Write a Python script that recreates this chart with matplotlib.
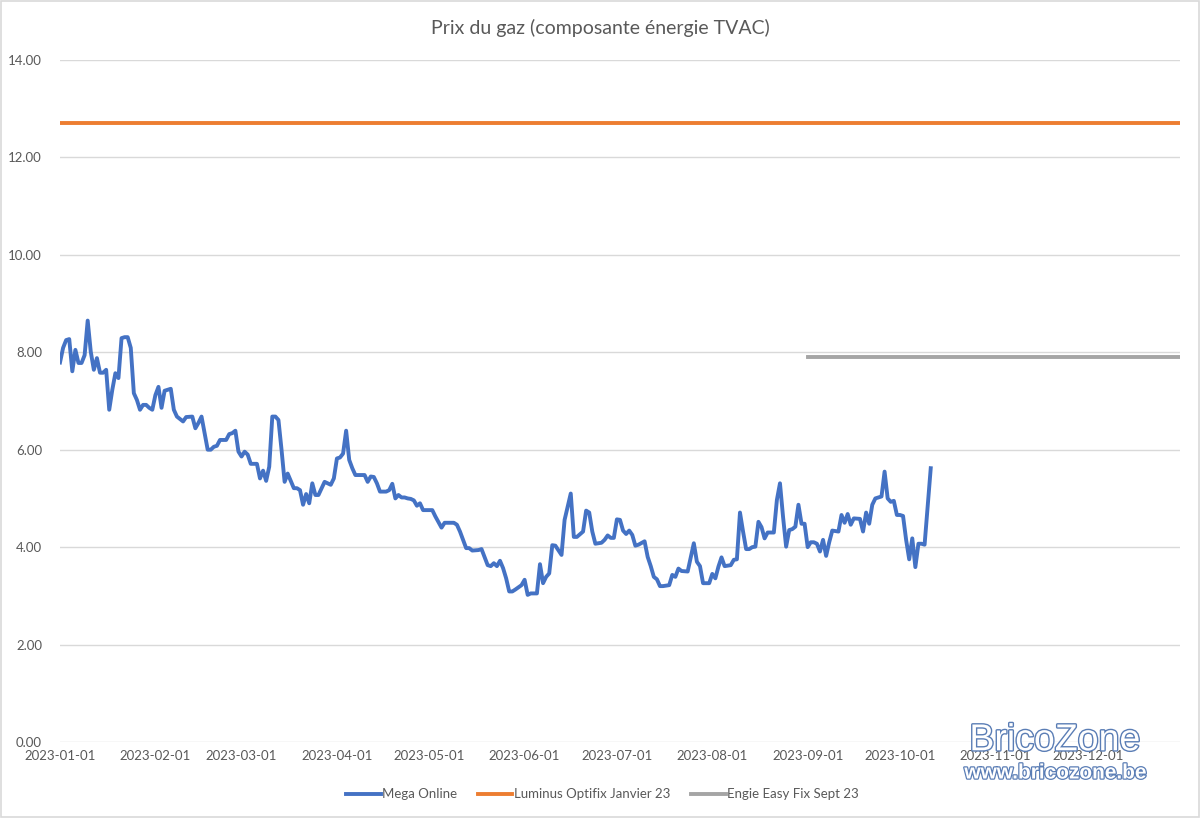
import numpy as np
import matplotlib
matplotlib.use("Agg")
import matplotlib.pyplot as plt
import matplotlib.patheffects as pe
from matplotlib.patches import Rectangle

plt.rcParams['font.family'] = ['Lato', 'DejaVu Sans']

title = "Prix du gaz (composante énergie TVAC)"
start_date = np.datetime64('2023-01-01')
end_date = np.datetime64('2023-12-31')

# Mega Online: day offset from 2023-01-01, value
mega_days = [0, 1, 2, 3, 4, 5, 6, 7, 8, 9, 10, 11, 12, 13, 14, 15, 16, 17, 18, 19,
             20, 21, 22, 23, 24, 25, 26, 27, 28, 29, 30, 31, 32, 33, 34, 35, 36, 37, 38, 40,
             41, 43, 44, 45, 46, 48, 49, 50, 51, 52, 54, 55, 56, 57, 58, 59, 60, 61, 62, 64,
             65, 66, 67, 68, 69, 70, 71, 72, 73, 74, 76, 77, 78, 79, 80, 81, 82, 83, 84, 86,
             87, 88, 89, 90, 91, 92, 93, 94, 95, 96, 97, 99, 100, 101, 102, 103, 104, 106, 107, 108,
             109, 110, 111, 112, 113, 114, 115, 116, 117, 118, 121, 122, 124, 125, 128, 129, 130, 132, 133, 134,
             136, 137, 139, 140, 141, 142, 143, 144, 145, 146, 147, 148, 150, 151, 152, 153, 155, 156, 157, 158,
             159, 160, 161, 163, 164, 165, 166, 167, 168, 170, 171, 172, 173, 174, 176, 177, 178, 179, 180, 181,
             182, 183, 184, 185, 186, 187, 188, 190, 191, 192, 193, 194, 195, 196, 198, 199, 200, 201, 202, 204,
             206, 207, 208, 209, 211, 212, 213, 214, 215, 216, 218, 219, 220, 221, 222, 223, 224, 225, 226, 227,
             228, 229, 230, 232, 233, 234, 235, 236, 237, 238, 239, 240, 241, 242, 243, 244, 245, 246, 247, 248,
             249, 250, 251, 253, 254, 255, 256, 257, 258, 260, 261, 262, 263, 264, 265, 266, 267, 268, 269, 270,
             271, 272, 273, 274, 275, 276, 277, 278, 279, 280, 281, 283]
mega_values = [7.79, 8.09, 8.25, 8.27, 7.61, 8.05, 7.78, 7.78, 7.94, 8.65, 8.01, 7.64, 7.88, 7.58, 7.58, 7.64, 6.82, 7.23, 7.57, 7.47,
               8.29, 8.31, 8.31, 8.09, 7.16, 7.02, 6.82, 6.92, 6.92, 6.86, 6.82, 7.12, 7.29, 6.86, 7.21, 7.23, 7.25, 6.82, 6.68, 6.58,
               6.67, 6.68, 6.44, 6.55, 6.68, 6.00, 6.00, 6.06, 6.08, 6.20, 6.20, 6.32, 6.34, 6.39, 5.96, 5.86, 5.96, 5.90, 5.71, 5.71,
               5.41, 5.57, 5.36, 5.65, 6.68, 6.68, 6.61, 6.00, 5.34, 5.51, 5.21, 5.21, 5.17, 4.87, 5.09, 4.90, 5.31, 5.07, 5.07, 5.34,
               5.31, 5.28, 5.41, 5.82, 5.84, 5.92, 6.39, 5.79, 5.62, 5.48, 5.48, 5.48, 5.34, 5.45, 5.44, 5.31, 5.14, 5.14, 5.17, 5.30,
               5.00, 5.07, 5.02, 5.02, 5.00, 4.99, 4.96, 4.85, 4.90, 4.76, 4.76, 4.63, 4.40, 4.50, 4.50, 4.46, 4.32, 3.98, 3.98, 3.93,
               3.94, 3.96, 3.63, 3.61, 3.67, 3.61, 3.72, 3.57, 3.36, 3.09, 3.09, 3.13, 3.22, 3.33, 3.02, 3.05, 3.05, 3.65, 3.26, 3.39,
               3.46, 4.04, 4.03, 3.84, 4.56, 4.83, 5.10, 4.21, 4.21, 4.32, 4.75, 4.71, 4.32, 4.07, 4.09, 4.15, 4.24, 4.19, 4.19, 4.57,
               4.56, 4.34, 4.27, 4.34, 4.25, 4.03, 4.05, 4.12, 3.80, 3.61, 3.39, 3.34, 3.20, 3.20, 3.22, 3.43, 3.39, 3.56, 3.51, 3.50,
               4.08, 3.70, 3.61, 3.26, 3.26, 3.45, 3.36, 3.60, 3.79, 3.61, 3.63, 3.74, 3.75, 4.71, 4.32, 3.96, 3.96, 4.00, 4.01, 4.52,
               4.41, 4.18, 4.30, 4.30, 4.97, 5.31, 4.62, 4.01, 4.35, 4.37, 4.42, 4.87, 4.48, 4.48, 4.00, 4.10, 4.10, 4.07, 3.91, 4.15,
               3.82, 4.10, 4.34, 4.32, 4.66, 4.50, 4.68, 4.46, 4.59, 4.58, 4.32, 4.71, 4.48, 4.87, 5.00, 5.02, 5.04, 5.55, 5.00, 4.93,
               4.95, 4.66, 4.66, 4.64, 4.15, 3.75, 4.18, 3.59, 4.07, 4.07, 4.05, 5.62]

luminus_value = 12.70
luminus_start, luminus_end = '2023-01-01', '2023-12-31'
engie_value = 7.90
engie_start, engie_end = '2023-09-01', '2023-12-31'

series_names = ["Mega Online", "Luminus Optifix Janvier 23", "Engie Easy Fix Sept 23"]
series_colors = ["#4472C4", "#ED7D31", "#A5A5A5"]

y_ticks = [0, 2, 4, 6, 8, 10, 12, 14]
x_tick_labels = ['2023-01-01', '2023-02-01', '2023-03-01', '2023-04-01', '2023-05-01', '2023-06-01',
                 '2023-07-01', '2023-08-01', '2023-09-01', '2023-10-01', '2023-11-01', '2023-12-01']

mega_dates = start_date + np.array(mega_days).astype('timedelta64[D]')

fig = plt.figure(figsize=(12, 8.18), dpi=100)
ax = fig.add_axes([0.05, 0.0929, 0.9333, 0.8338])

ax.plot(mega_dates, mega_values, color=series_colors[0], lw=2.8, label=series_names[0],
        solid_joinstyle='round', zorder=3)
ax.plot(np.array([luminus_start, luminus_end], dtype='datetime64[D]'), [luminus_value] * 2,
        color=series_colors[1], lw=2.8, label=series_names[1], zorder=3)
ax.plot(np.array([engie_start, engie_end], dtype='datetime64[D]'), [engie_value] * 2,
        color=series_colors[2], lw=2.8, label=series_names[2], zorder=3)

ax.set_xlim(start_date, end_date)
ax.set_ylim(0, 14)
ax.set_yticks(y_ticks)
ax.set_yticklabels([f"{v:.2f}" for v in y_ticks])
ax.set_xticks(np.array(x_tick_labels, dtype='datetime64[D]'))
ax.set_xticklabels(x_tick_labels)
ax.grid(axis='y', color='#D9D9D9', lw=1)
ax.set_axisbelow(True)
for s in ax.spines.values():
    s.set_visible(False)
ax.tick_params(axis='both', length=0, colors='#595959', labelsize=9.5)
ax.tick_params(axis='y', pad=13)
ax.tick_params(axis='x', pad=6)

fig.text(0.5, 0.966, title, ha='center', va='center', fontsize=14, color='#595959')

leg = fig.legend(loc='center', bbox_to_anchor=(0.502, 0.029), ncol=3, frameon=False,
                 fontsize=9.5, handlelength=2.6, handletextpad=0.1, columnspacing=1.6,
                 labelcolor='#595959')

# Chart area border
fig.patches.append(Rectangle((0.001, 0.001), 0.998, 0.998, transform=fig.transFigure,
                             fill=False, edgecolor='#D9D9D9', lw=1.2))

# Watermark
fig.text(0.879, 0.095, "BricoZone", ha='center', va='center', fontsize=27, color='white',
         family=['Liberation Sans', 'DejaVu Sans'],
         path_effects=[pe.withStroke(linewidth=2, foreground='#5A7DB5')], zorder=10)
fig.text(0.88, 0.055, "www.bricozone.be", ha='center', va='center', fontsize=15, color='white',
         family=['Liberation Sans', 'DejaVu Sans'], weight='bold',
         path_effects=[pe.withStroke(linewidth=1.8, foreground='#5A7DB5')], zorder=10)

fig.savefig("out.png", dpi=100)
